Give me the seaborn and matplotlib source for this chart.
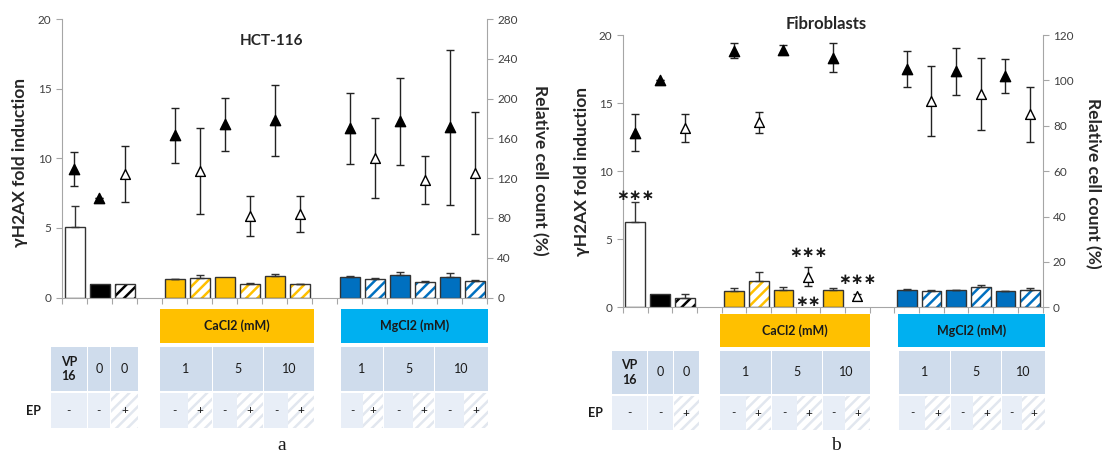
import matplotlib
matplotlib.use('Agg')
import matplotlib.pyplot as plt
from matplotlib.patches import Rectangle
import numpy as np
import pandas as pd
import seaborn as sns

W, H = 1102, 455

# x slots: 3 controls, gap, 6 CaCl2, gap, 6 MgCl2
slots = [0, 1, 2, 4, 5, 6, 7, 8, 9, 11, 12, 13, 14, 15, 16]
groups = ['VP16', 'ctrl', 'ctrl_ep', 'Ca', 'Ca_ep', 'Ca', 'Ca_ep', 'Ca', 'Ca_ep',
          'Mg', 'Mg_ep', 'Mg', 'Mg_ep', 'Mg', 'Mg_ep']
ep = [g.endswith('_ep') for g in groups]

# HCT-116
hct_h2ax = [5.05, 1.0, 1.0, 1.3, 1.4, 1.45, 1.0, 1.55, 0.95, 1.5, 1.35, 1.58, 1.1, 1.48, 1.17]
hct_h2ax_err = [1.55, 0, 0, 0.05, 0.25, 0, 0.05, 0.12, 0.04, 0.05, 0.05, 0.22, 0.1, 0.3, 0.06]
hct_count = [129, 100, 124, 163, 127, 174, 82, 178, 84, 170, 140, 177, 118, 171, 125]
hct_count_err = [17, 0, 28, 28, 43, 27, 20, 36, 18, 36, 40, 44, 24, 78, 61]

# Fibroblasts
fib_h2ax = [6.3, 1.0, 0.65, 1.2, 1.95, 1.27, np.nan, 1.3, np.nan, 1.3, 1.22, 1.25, 1.49, 1.17, 1.3]
fib_h2ax_err = [1.4, 0, 0.3, 0.2, 0.65, 0.2, 0, 0.12, 0, 0.05, 0.05, 0.03, 0.17, 0.05, 0.12]
fib_count = [77, 100, 79, 113, 81.5, 113.5, 13.5, 110, 5, 105, 91, 104, 94, 102, 85]
fib_count_err = [8, 0, 6, 3.3, 4.5, 2, 4.3, 6.5, 1, 8, 15.5, 10.3, 16, 7.6, 12.2]

fill_colors = {'VP16': 'white', 'ctrl': 'black', 'ctrl_ep': 'white', 'Ca': '#FFC000',
               'Ca_ep': 'white', 'Mg': '#0070C0', 'Mg_ep': 'white'}
hatch_colors = {'ctrl_ep': 'black', 'Ca_ep': '#FFC000', 'Mg_ep': '#0070C0'}

sns.set_style('ticks')
plt.rcParams['font.family'] = ['Lato', 'DejaVu Sans']
plt.rcParams['hatch.linewidth'] = 1.8
GRAY = '#a6a6a6'
TXT = '#404040'

fig = plt.figure(figsize=(W / 100, H / 100), dpi=100)


def draw_panel(rect, vals, errs, counts, counts_err, ymax2, step2):
    ax = fig.add_axes(rect)
    df = pd.DataFrame({'slot': slots, 'val': vals, 'err': errs, 'group': groups})
    df = df.dropna()
    sns.barplot(data=df, x='slot', y='val', hue='group', palette=fill_colors, native_scale=True,
                dodge=False, errorbar=None, linewidth=0, saturation=1, legend=False, ax=ax)
    slot_group = dict(zip(df['slot'], df['group']))
    for p in ax.patches:
        s = int(round(p.get_x() + p.get_width() / 2))
        g = slot_group.get(s)
        if g in hatch_colors:
            p.set_hatch('///')
            p.set_edgecolor(hatch_colors[g])
            p.set_linewidth(0)
    sns.barplot(data=df, x='slot', y='val', native_scale=True, fill=False, color='#333333',
                linewidth=1, errorbar=None, saturation=1, ax=ax)
    e = df[df['err'] > 0]
    ax.errorbar(e['slot'], e['val'], yerr=[np.zeros(len(e)), e['err']], fmt='none',
                ecolor='#333333', elinewidth=1, capsize=3, capthick=1)
    ax.set_ylim(0, 20)
    ax.set_yticks(range(0, 21, 5))
    ax.set_xlim(-0.5, 16.5)
    ax.set_xticks(np.arange(-0.5, 17, 1))
    ax.set_xticklabels([])
    ax.set_xlabel('')
    ax.set_ylabel('')
    ax.tick_params(axis='x', length=4, color=GRAY, width=0.8)
    ax.tick_params(axis='y', length=4, color=GRAY, width=0.8, labelsize=8.5, labelcolor=TXT)
    for side in ['left', 'bottom']:
        ax.spines[side].set_color(GRAY)
    ax.spines['top'].set_visible(False)
    ax.spines['right'].set_visible(False)

    ax2 = ax.twinx()
    cdf = pd.DataFrame({'slot': slots, 'count': counts, 'err': counts_err, 'ep': ep})
    ax2.errorbar(cdf['slot'], cdf['count'], yerr=cdf['err'], fmt='none', ecolor='#222222',
                 elinewidth=1, capsize=3, capthick=1)
    sns.scatterplot(data=cdf[~cdf['ep']], x='slot', y='count', marker='^', s=55,
                    color='black', edgecolor='black', linewidth=1, ax=ax2, zorder=3)
    sns.scatterplot(data=cdf[cdf['ep']], x='slot', y='count', marker='^', s=50,
                    color='white', edgecolor='black', linewidth=1, ax=ax2, zorder=3)
    ax2.set_ylim(0, ymax2)
    ax2.set_yticks(range(0, ymax2 + 1, step2))
    ax2.set_xlim(-0.5, 16.5)
    ax2.set_xlabel('')
    ax2.set_ylabel('')
    ax2.tick_params(axis='y', right=True, length=4, color=GRAY, width=0.8, labelsize=8.5,
                    labelcolor=TXT)
    ax2.spines['right'].set_color(GRAY)
    for side in ['top', 'left', 'bottom']:
        ax2.spines[side].set_visible(False)
    return ax, ax2


def cell(x0, x1, y0, y1, color, text='', hatch=None, bold=False, size=9):
    r = Rectangle((x0 / W, 1 - y1 / H), (x1 - x0) / W, (y1 - y0) / H, transform=fig.transFigure,
                  facecolor=color, edgecolor=hatch if hatch else 'none',
                  hatch='///' if hatch else None, linewidth=0)
    fig.add_artist(r)
    if text:
        fig.text((x0 + x1) / 2 / W, 1 - (y0 + y1) / 2 / H, text, ha='center', va='center',
                 fontsize=size, fontweight='bold' if bold else 'normal', color='#1a1a1a',
                 linespacing=1.3)


ROW1 = '#CFDCEC'
ROW2 = '#E8EEF7'
HATCH2 = '#E2E7EF'
doses = ['1', '5', '10', '1', '5', '10']


def draw_table(hdr, hdr_y, row1_y, row2_y, cols, splits, ep_xy, letter_xy, letter):
    for (x0, x1), color, label in hdr:
        cell(x0, x1, hdr_y[0], hdr_y[1], color, label, bold=True, size=9)
    labels1 = ['VP\n16', '0', '0'] + doses
    for (x0, x1), t in zip(cols, labels1):
        cell(x0, x1, row1_y[0], row1_y[1], ROW1, t, bold=t.startswith('VP'), size=9)
    for (x0, x1), t in zip(cols[:3], ['-', '-', '+']):
        if t == '+':
            cell(x0, x1, row2_y[0], row2_y[1], 'white', t, hatch=HATCH2, size=8.5)
        else:
            cell(x0, x1, row2_y[0], row2_y[1], ROW2, t, size=8.5)
    for (x0, x1), s in zip(cols[3:], splits):
        cell(x0, s, row2_y[0], row2_y[1], ROW2, '-', size=8.5)
        cell(s, x1, row2_y[0], row2_y[1], 'white', '+', hatch=HATCH2, size=8.5)
    fig.text(ep_xy[0] / W, 1 - ep_xy[1] / H, 'EP', ha='center', va='center', fontsize=9,
             fontweight='bold', color='#1a1a1a')
    fig.text(letter_xy[0] / W, 1 - letter_xy[1] / H, letter, ha='center', va='center',
             fontsize=14, family='Liberation Serif', color='#1a1a1a')


# panel a
draw_panel([62 / W, 1 - 297.5 / H, 425 / W, 278.5 / H], hct_h2ax, hct_h2ax_err,
           hct_count, hct_count_err, 280, 40)
draw_table([((160, 314), '#FFC000', 'CaCl2 (mM)'), ((341, 488), '#00B0F0', 'MgCl2 (mM)')],
           (309, 343), (347, 391), (393, 428),
           [(51, 86.5), (87.5, 110), (111, 138), (160, 211.5), (212.5, 263), (264, 314),
            (341, 383), (384, 434), (435, 488)],
           [188, 237, 288, 363, 413, 464], (33, 411), (282, 446), 'a')

# panel b
axb, axb2 = draw_panel([623 / W, 1 - 307.3 / H, 419.5 / W, 272.3 / H], fib_h2ax, fib_h2ax_err,
                       fib_count, fib_count_err, 120, 20)
draw_table([((720, 870), '#FFC000', 'CaCl2 (mM)'), ((898, 1045), '#00B0F0', 'MgCl2 (mM)')],
           (314, 347), (351, 394), (396, 430),
           [(612, 646.5), (647.5, 672.5), (673.5, 699), (720, 770.5), (771.5, 821.5),
            (822.5, 870), (899, 950), (951, 1000.5), (1001.5, 1045)],
           [746, 797, 845, 925, 973, 1022], (595, 413), (836, 446), 'b')

# significance marks (left axis units)
for x, y, t in [(0, 8.2, '∗∗∗'), (7, 4.0, '∗∗∗'), (7, 0.41, '∗∗'), (9, 2.05, '∗∗∗')]:
    axb.text(x, y, t, ha='center', va='center', fontsize=11, fontweight='bold',
             family='DejaVu Sans', color='#1a1a1a')

# titles and axis labels
fig.text(271.5 / W, 1 - 41 / H, 'HCT-116', ha='center', va='center', fontsize=11, fontweight='bold')
fig.text(826 / W, 1 - 24 / H, 'Fibroblasts', ha='center', va='center', fontsize=12, fontweight='bold')
for x, y in [(20, 162), (582, 172)]:
    fig.text(x / W, 1 - y / H, 'γH2AX fold induction', rotation=90, ha='center', va='center',
             fontsize=12.5, fontweight='bold')
for x, y in [(540, 170), (1093, 183)]:
    fig.text(x / W, 1 - y / H, 'Relative cell count (%)', rotation=270, ha='center', va='center',
             fontsize=12.5, fontweight='bold')

fig.savefig('out.png', dpi=100)
